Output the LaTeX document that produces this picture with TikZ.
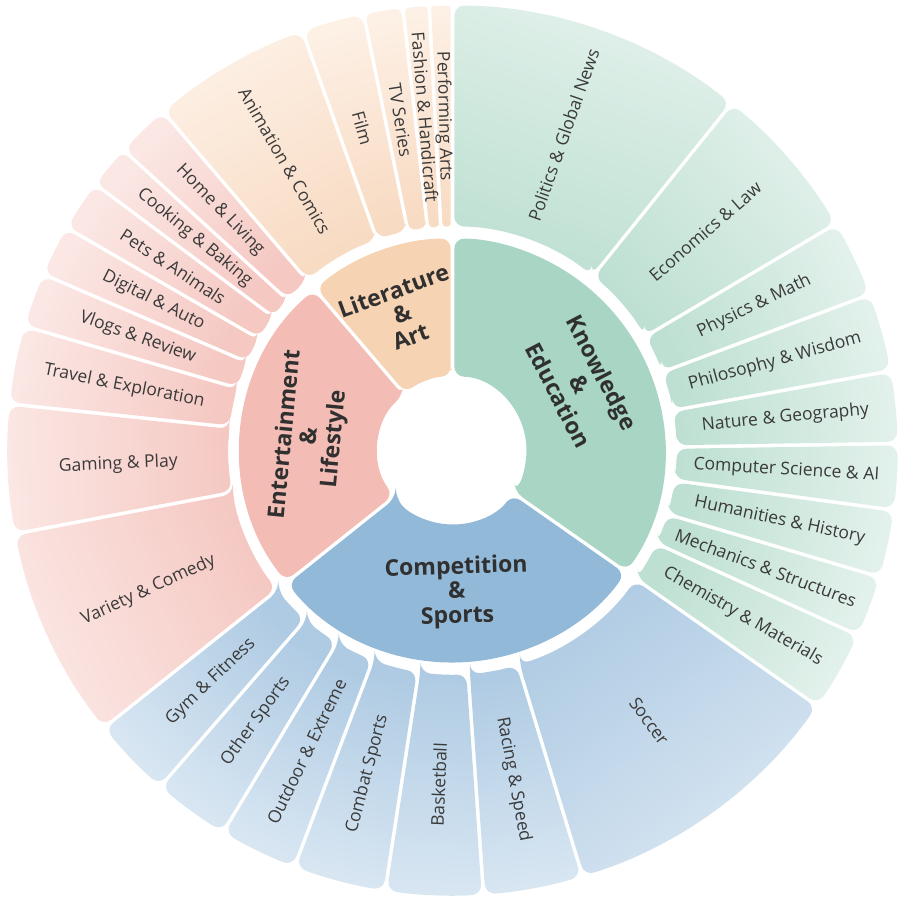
\documentclass[tikz,border=0pt]{standalone}
\usepackage{fontspec}
\setmainfont{Open Sans}

\definecolor{textgray}{HTML}{3A3A3A}
\definecolor{titlegray}{HTML}{303030}
\definecolor{knowA}{HTML}{A8D5C4}
\definecolor{knowB}{HTML}{BEE0D2}
\definecolor{knowC}{HTML}{E2F1EB}
\definecolor{compA}{HTML}{93B9D9}
\definecolor{compB}{HTML}{AFCBE3}
\definecolor{compC}{HTML}{D8E6F2}
\definecolor{entA}{HTML}{F3BDB5}
\definecolor{entB}{HTML}{F5C8C2}
\definecolor{entC}{HTML}{FBE7E4}
\definecolor{litA}{HTML}{F6D3B3}
\definecolor{litB}{HTML}{F8DBC3}
\definecolor{litC}{HTML}{FDF0E5}

% one slice: start angle, end angle, inner radius, outer radius, inner colour, outer colour
\newcommand{\slice}[6]{%
  \pgfmathsetmacro{\gin}{1.8*57.2958/#3}%
  \pgfmathsetmacro{\gout}{1.8*57.2958/#4}%
  \pgfmathsetmacro{\shang}{(#1+#2)/2-90}%
  \pgfmathsetmacro{\rc}{min(10,0.4*((#2-#1-2*\gin)*#3/57.2958))}%
  \shade[top color=#6,bottom color=#5,shading angle=\shang,rounded corners=\rc pt]
    ({#1+\gin}:#3) -- ({#1+\gout}:#4)
    arc[start angle=#1+\gout,end angle=#2-\gout,radius=#4]
    -- ({#2-\gin}:#3)
    arc[start angle=#2-\gin,end angle=#1+\gin,radius=#3] -- cycle;
}

\begin{document}
\begin{tikzpicture}[x=1pt,y=1pt]
	\tikzstyle{every node}=[text=textgray,inner sep=0pt,font=\fontsize{17.5}{20}\selectfont];
	\tikzset{catlabel/.style={text=titlegray,align=center,font=\bfseries\fontsize{23}{24.5}\selectfont}};
	\useasboundingbox (-452.5,-455.5) rectangle (456.5,450.5);
	% inner ring
	\slice{-35}{90}{74}{212}{knowA}{knowA}
	\slice{-141.5}{-35}{74}{212}{compA}{compA}
	\slice{130.5}{218.5}{74}{212}{entA}{entA}
	\slice{90}{130.5}{74}{212}{litA}{litA}
	\path (27.5:144)   node[catlabel,rotate=-62.5] (know) {Knowledge\\\&\\Education};
	\path (-88.25:142) node[catlabel,rotate=1.75]  (comp) {Competition\\\&\\Sports};
	\path (174.5:143)  node[catlabel,rotate=84.5]  (ent)  {Entertainment\\\&\\Lifestyle};
	\path (110.25:146) node[catlabel,rotate=20.25] (lit)  {Literature\\\&\\Art};
	% outer ring
	\foreach \s/\e/\lbl [count=\i] in {-35/-24.5/Chemistry \& Materials,
	    -24.5/-16.5/Mechanics \& Structures, -16.5/-7.7/Humanities \& History,
	    -7.7/0.9/Computer Science \& AI, 0.9/10.3/Nature \& Geography,
	    10.3/20.5/Philosophy \& Wisdom, 20.5/30.6/Physics \& Math,
	    30.6/51.2/Economics \& Law, 51.2/90/Politics \& Global News}{
		\slice{\s}{\e}{224}{445}{knowB}{knowC}
		\pgfmathsetmacro{\m}{(\s+\e)/2}
		\pgfmathsetmacro{\rot}{cos(\m)<0 ? \m+180 : \m}
		\path (\m:334.5) node[rotate=\rot] (k\i) {\lbl};
	}
	\foreach \s/\e/\lbl [count=\i] in {-141.5/-131/Gym \& Fitness,
	    -131/-121/Other Sports, -121/-110.8/Outdoor \& Extreme,
	    -110.8/-98.7/Combat Sports, -98.7/-86/Basketball,
	    -86/-73/Racing \& Speed, -73/-35/Soccer}{
		\slice{\s}{\e}{224}{445}{compB}{compC}
		\pgfmathsetmacro{\m}{(\s+\e)/2}
		\pgfmathsetmacro{\rot}{cos(\m)<0 ? \m+180 : \m}
		\path (\m:334.5) node[rotate=\rot] (c\i) {\lbl};
	}
	\foreach \s/\e/\lbl [count=\i] in {130.5/137.6/Home \& Living,
	    137.6/143.3/Cooking \& Baking, 143.3/150/Pets \& Animals,
	    150/156.7/Digital \& Auto, 156.7/163.8/Vlogs \& Review,
	    163.8/174/Travel \& Exploration, 174/190.8/Gaming \& Play,
	    190.8/218.5/Variety \& Comedy}{
		\slice{\s}{\e}{224}{445}{entB}{entC}
		\pgfmathsetmacro{\m}{(\s+\e)/2}
		\pgfmathsetmacro{\rot}{cos(\m)<0 ? \m+180 : \m}
		\path (\m:334.5) node[rotate=\rot] (e\i) {\lbl};
	}
	\foreach \s/\e/\lbl [count=\i] in {90/93/Performing Arts,
	    93/96.4/Fashion \& Handicraft, 96.4/101.5/TV Series,
	    101.5/109.7/Film, 109.7/130.5/Animation \& Comics}{
		\slice{\s}{\e}{224}{445}{litB}{litC}
		\pgfmathsetmacro{\m}{(\s+\e)/2}
		\pgfmathsetmacro{\rot}{cos(\m)<0 ? \m+180 : \m}
		\path (\m:334.5) node[rotate=\rot] (l\i) {\lbl};
	}
\end{tikzpicture}
\end{document}
